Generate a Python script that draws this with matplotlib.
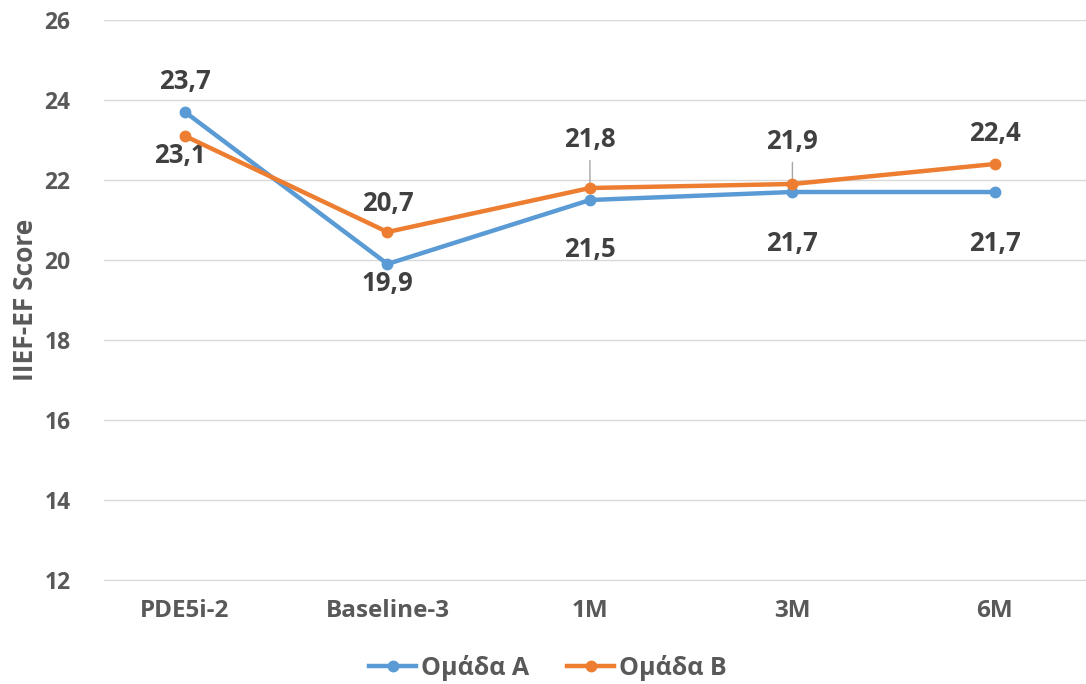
import numpy as np
import matplotlib.pyplot as plt

plt.rcParams['font.family'] = ['Open Sans', 'DejaVu Sans']

categories = ['PDE5i-2', 'Baseline-3', '1M', '3M', '6M']
group_a = [23.7, 19.9, 21.5, 21.7, 21.7]
group_b = [23.1, 20.7, 21.8, 21.9, 22.4]
yticks = [12, 14, 16, 18, 20, 22, 24, 26]

# label offsets in pixels (dx, dy) relative to each point
offs_a = [(0, 31), (0, -19), (0, -49), (0, -52), (0, -52)]
offs_b = [(-5, -20), (0, 29), (0, 48), (0, 42), (0, 31)]
leader_b = [False, False, True, True, False]

blue = '#5B9BD5'
orange = '#ED7D31'
txt = '#404040'
tick_col = '#595959'

fig = plt.figure(figsize=(10.86, 6.84), dpi=100)
ax = fig.add_axes([104 / 1086, 104 / 684, 1 - 104 / 1086, 560 / 684])

x = np.arange(len(categories))
ax.plot(x, group_a, color=blue, lw=3.2, marker='o', ms=7.5, label='Ομάδα Α', zorder=3)
ax.plot(x, group_b, color=orange, lw=3.2, marker='o', ms=7.5, label='Ομάδα Β', zorder=4)

for i in range(len(x)):
    ax.annotate(f'{group_a[i]:.1f}'.replace('.', ','), (x[i], group_a[i]),
                xytext=offs_a[i], textcoords='offset pixels', ha='center', va='center',
                fontsize=18.5, fontweight='bold', color=txt)
    arrow = dict(arrowstyle='-', color='#A6A6A6', lw=1, shrinkA=3, shrinkB=4) if leader_b[i] else None
    ax.annotate(f'{group_b[i]:.1f}'.replace('.', ','), (x[i], group_b[i]),
                xytext=offs_b[i], textcoords='offset pixels', ha='center', va='center',
                fontsize=18.5, fontweight='bold', color=txt, arrowprops=arrow)

ax.set_xlim(-0.4, 4.45)
ax.set_ylim(12, 26)
ax.set_yticks(yticks)
ax.set_xticks(x)
ax.set_xticklabels(categories)
ax.grid(axis='y', color='#D9D9D9', lw=1)
ax.set_axisbelow(True)
for s in ['top', 'right', 'left']:
    ax.spines[s].set_visible(False)
ax.spines['bottom'].set_color('#D9D9D9')
ax.tick_params(axis='y', length=0, labelsize=16.5, colors=tick_col, pad=24)
ax.tick_params(axis='x', length=0, labelsize=17.5, colors=tick_col, pad=14)
for lab in ax.get_xticklabels() + ax.get_yticklabels():
    lab.set_fontweight('bold')
ax.set_ylabel('IIEF-EF Score', fontsize=19, fontweight='bold', color=tick_col, labelpad=4)

leg = fig.legend(loc='center', bbox_to_anchor=(548 / 1086, 1 - 668 / 684), ncol=2, frameon=False,
                 fontsize=18, handlelength=1.9, columnspacing=1.5, handletextpad=0.2)
for t in leg.get_texts():
    t.set_color(tick_col)
    t.set_fontweight('bold')

fig.savefig('out.png', dpi=100)
